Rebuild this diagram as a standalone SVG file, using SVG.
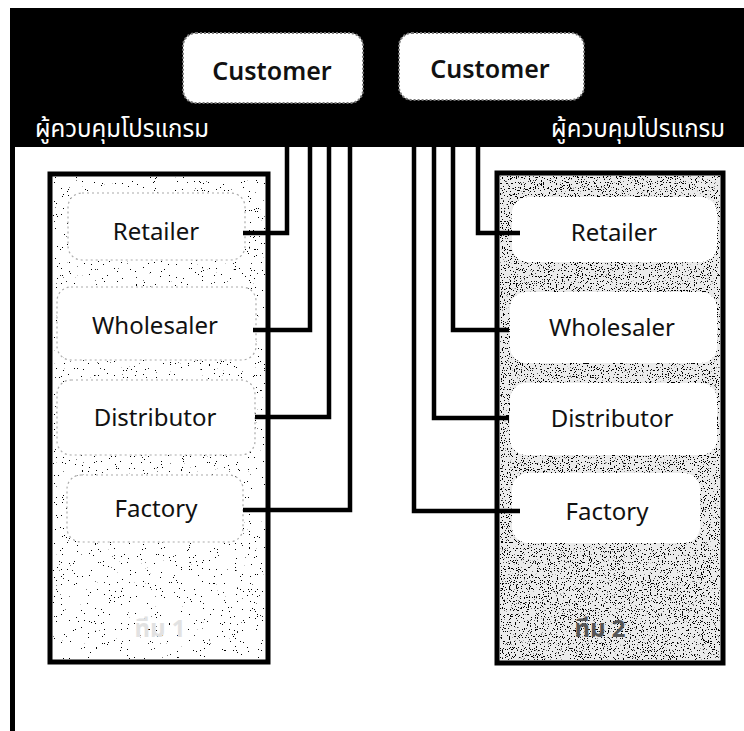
<svg xmlns="http://www.w3.org/2000/svg" width="744" height="731" viewBox="0 0 744 731">
  <defs>
    <!-- fine grey speckle used as the shaded panel texture -->
    <filter id="speckle" x="0" y="0" width="100%" height="100%">
      <feTurbulence type="fractalNoise" baseFrequency="0.85" numOctaves="2" seed="7" result="n"/>
      <feColorMatrix in="n" type="matrix" values="0 0 0 0 0  0 0 0 0 0  0 0 0 0 0  0 0 0 -30 11.3" result="dots"/>
      <feComposite in="dots" in2="SourceGraphic" operator="in"/>
    </filter>
    <filter id="speckleLight" x="0" y="0" width="100%" height="100%">
      <feTurbulence type="fractalNoise" baseFrequency="0.85" numOctaves="2" seed="3" result="n"/>
      <feColorMatrix in="n" type="matrix" values="0 0 0 0 0  0 0 0 0 0  0 0 0 0 0  0 0 0 -80 20.6" result="dots"/>
      <feComposite in="dots" in2="SourceGraphic" operator="in"/>
    </filter>
  </defs>
  <style>
    .band { fill: #000; }
    .panel { fill: #fff; stroke: #000; stroke-width: 5; }
    .panelShaded { fill: #ebebeb; stroke: #000; stroke-width: 5; }
    .cust { fill: #fff; stroke: #777; stroke-width: 2; stroke-dasharray: 2 2; }
    .nodeL { fill: #fff; stroke: #aaa; stroke-width: 1.2; stroke-dasharray: 2 3; }
    .nodeR { fill: #fff; stroke: none; }
    .lbl { font-family: "Noto Sans", "Open Sans", "DejaVu Sans", sans-serif; font-size: 24px; fill: #111; text-anchor: middle; }
    .custLbl { font-family: "Noto Sans", "Open Sans", "DejaVu Sans", sans-serif; font-size: 25px; font-weight: 600; fill: #111; text-anchor: middle; }
    .thai { font-family: "Noto Sans Thai", "Noto Sans", "DejaVu Sans", sans-serif; font-size: 24px; fill: #fff; }
    .team { font-family: "Noto Sans Thai", "Noto Sans", "DejaVu Sans", sans-serif; font-size: 24px; font-weight: bold; text-anchor: middle; }
    .wire { fill: none; stroke: #000; stroke-width: 4.5; stroke-linejoin: miter; }
  </style>

  <!-- page frame: top band and left rule -->
  <rect class="band" x="10" y="8" width="734" height="139"/>
  <rect class="band" x="10" y="140" width="5" height="591"/>

  <!-- team 1 panel -->
  <g id="panel1">
    <rect class="panel" x="50" y="174" width="218" height="488"/>
    <rect x="53" y="177" width="212" height="482" fill="#888" filter="url(#speckleLight)"/>
    <text class="team" x="160" y="637" fill="#e2e2e2">ทีม 1</text>
  </g>

  <!-- team 2 panel -->
  <g id="panel2">
    <rect class="panelShaded" x="497" y="173" width="226" height="490"/>
    <rect x="500" y="176" width="220" height="484" fill="#555" filter="url(#speckle)"/>
    <text class="team" x="600" y="637" fill="#555">ทีม 2</text>
  </g>

  <!-- customers -->
  <g id="customer1">
    <rect class="cust" x="183" y="33" width="180" height="70" rx="13"/>
    <text class="custLbl" x="272" y="80">Customer</text>
  </g>
  <g id="customer2">
    <rect class="cust" x="399" y="33" width="185" height="67" rx="13"/>
    <text class="custLbl" x="490" y="78">Customer</text>
  </g>

  <!-- controller labels -->
  <g id="controller1">
    <text class="thai" x="35" y="137">ผู้ควบคุมโปรแกรม</text>
  </g>
  <g id="controller2">
    <text class="thai" x="725" y="137" text-anchor="end">ผู้ควบคุมโปรแกรม</text>
  </g>

  <!-- team 1 roles -->
  <g id="retailer1">
    <rect class="nodeL" x="68" y="193" width="177" height="67" rx="14"/>
    <text class="lbl" x="156" y="240">Retailer</text>
  </g>
  <g id="wholesaler1">
    <rect class="nodeL" x="57" y="287" width="199" height="73" rx="14"/>
    <text class="lbl" x="155" y="334">Wholesaler</text>
  </g>
  <g id="distributor1">
    <rect class="nodeL" x="57" y="380" width="198" height="75" rx="14"/>
    <text class="lbl" x="155" y="426">Distributor</text>
  </g>
  <g id="factory1">
    <rect class="nodeL" x="67" y="475" width="176" height="67" rx="14"/>
    <text class="lbl" x="156" y="517">Factory</text>
  </g>

  <!-- team 2 roles -->
  <g id="retailer2">
    <rect class="nodeR" x="512" y="197" width="205" height="65" rx="16"/>
    <text class="lbl" x="614" y="241">Retailer</text>
  </g>
  <g id="wholesaler2">
    <rect class="nodeR" x="510" y="292" width="207" height="71" rx="16"/>
    <text class="lbl" x="612" y="336">Wholesaler</text>
  </g>
  <g id="distributor2">
    <rect class="nodeR" x="510" y="383" width="207" height="72" rx="16"/>
    <text class="lbl" x="612" y="427">Distributor</text>
  </g>
  <g id="factory2">
    <rect class="nodeR" x="512" y="473" width="188" height="70" rx="16"/>
    <text class="lbl" x="607" y="520">Factory</text>
  </g>

  <!-- links from the controller band to each role -->
  <g id="connectors">
    <path class="wire" d="M287 140 V233 H243"/>
    <path class="wire" d="M310 140 V330 H253"/>
    <path class="wire" d="M329 140 V417 H255"/>
    <path class="wire" d="M350 140 V510 H243"/>
    <path class="wire" d="M478 140 V233 H520"/>
    <path class="wire" d="M453 140 V330 H509"/>
    <path class="wire" d="M434 140 V418 H509"/>
    <path class="wire" d="M414 140 V511 H520"/>
  </g>
</svg>
